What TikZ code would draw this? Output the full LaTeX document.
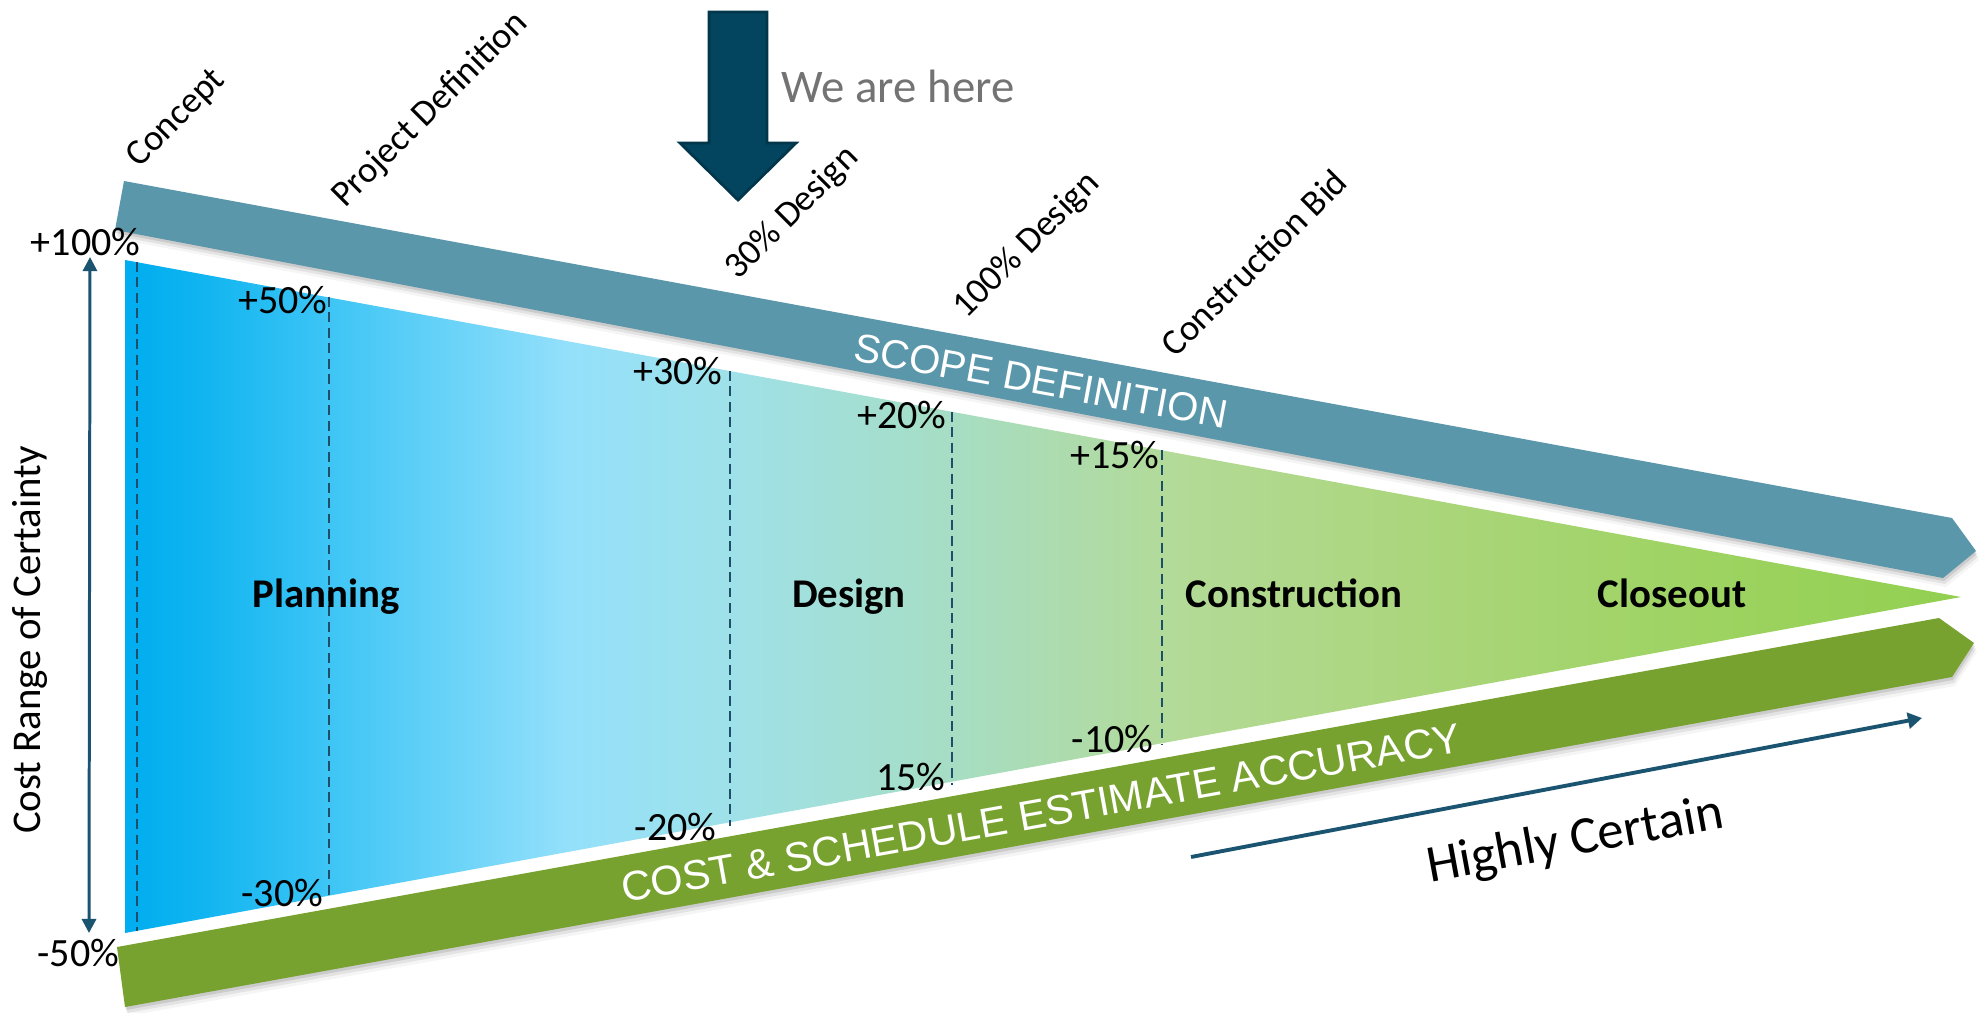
\documentclass[tikz,border=0pt]{standalone}
\usepackage{fontspec}
\setmainfont{Carlito}
\newfontfamily\arialf{Liberation Sans}
\usetikzlibrary{arrows.meta}
\definecolor{scopeblue}{HTML}{5B97AA}
\definecolor{accgreen}{HTML}{78A22F}
\definecolor{navyc}{HTML}{1B5470}
\definecolor{dashc}{HTML}{1F4E6B}
\definecolor{arrowfill}{HTML}{03455F}
\definecolor{arrowdraw}{HTML}{01364B}
\definecolor{hereg}{HTML}{737373}
\definecolor{ga}{HTML}{00ADEF}
\definecolor{gb}{HTML}{0FB4F0}
\definecolor{gc}{HTML}{3AC4F5}
\definecolor{gd}{HTML}{94E0FB}
\definecolor{ge}{HTML}{9FE1E8}
\definecolor{gf}{HTML}{A6DDC4}
\definecolor{gg}{HTML}{B3DA96}
\definecolor{gh}{HTML}{ABD67C}
\definecolor{gi}{HTML}{9ED362}
\definecolor{gj}{HTML}{92D050}
\pgfdeclarehorizontalshading{funnelshade}{100bp}{color(0bp)=(ga); color(25bp)=(ga); color(27bp)=(gb); color(30.3bp)=(gc); color(37.1bp)=(gd); color(41.6bp)=(ge); color(47.4bp)=(gf); color(53.8bp)=(gg); color(60.2bp)=(gh); color(67.9bp)=(gi); color(75bp)=(gj); color(100bp)=(gj)}
\begin{document}
\begin{tikzpicture}[x=0.01cm,y=-0.01cm,
  pct/.style={font=\fontsize{11.4}{13}\selectfont, inner sep=0pt, anchor=base east},
  phase/.style={font=\bfseries\fontsize{11.6}{13}\selectfont, inner sep=0pt, anchor=base},
  milestone/.style={font=\fontsize{10.4}{12}\selectfont, inner sep=0pt, anchor=base west, rotate=45},
  dashln/.style={dashc, line width=0.6pt, dash pattern=on 2.8pt off 1.6pt},
  bandtext/.style={font=\arialf\fontsize{11.4}{13}\selectfont, inner sep=0pt},
  bandshadow/.style={fill=black, opacity=#1}
]
\useasboundingbox (0,0) rectangle (1982,1012);
\fill[white] (0,0) rectangle (1982,1012);

% shadows of the bands
\foreach \d/\o in {9/0.04,6/0.07,3/0.1}{
  \fill[bandshadow=\o] ([shift={(\d/3,\d)}]124,181) -- ([shift={(\d/3,\d)}]1952,518) -- ([shift={(\d/3,\d)}]1976,551) -- ([shift={(\d/3,\d)}]1943,578) -- ([shift={(\d/3,\d)}]115,230) -- cycle;
  \fill[bandshadow=\o] ([shift={(\d/3,\d)}]117,947) -- ([shift={(\d/3,\d)}]1939,618) -- ([shift={(\d/3,\d)}]1974,643) -- ([shift={(\d/3,\d)}]1952,677) -- ([shift={(\d/3,\d)}]125,1007) -- cycle;
}
% scope band
\fill[scopeblue] (124,181) -- (1952,518) -- (1976,551) -- (1943,578) -- (115,230) -- cycle;
% accuracy band
\fill[accgreen] (117,947) -- (1939,618) -- (1974,643) -- (1952,677) -- (125,1007) -- cycle;
% funnel
\shade[shading=funnelshade] (125,260) -- (1961,597) -- (125,933) -- cycle;

% dashed milestone lines
\draw[dashln] (137,262) -- (137,931);
\draw[dashln] (329,297) -- (329,896);
\draw[dashln] (730,371) -- (730,826);
\draw[dashln] (952,412) -- (952,785);
\draw[dashln] (1162,450) -- (1162,745);

% percentage labels
\node[pct] (p100) at (141,255) {+100\%};
\node[pct] (p50)  at (328,313) {+50\%};
\node[pct] (p30)  at (723,384) {+30\%};
\node[pct] (p20)  at (947,428) {+20\%};
\node[pct] (p15)  at (1160,468) {+15\%};
\node[pct] (m50)  at (120,966) {-50\%};
\node[pct] (m30)  at (324,906) {-30\%};
\node[pct] (m20)  at (717,840) {-20\%};
\node[pct] (m15)  at (946,790) {15\%};
\node[pct] (m10)  at (1154,752) {-10\%};

% phase labels
\node[phase] (planning) at (326,607) {Planning};
\node[phase] (design) at (849,607) {Design};
\node[phase] (constr) at (1294,607) {Construction};
\node[phase] (closeout) at (1672,607) {Closeout};

% milestone labels
\node[milestone] (concept) at (139,169) {Concept};
\node[milestone] (projdef) at (345,209) {Project Definition};
\node[milestone] (d30) at (738,281) {30\% Design};
\node[milestone] (d100) at (966,320) {100\% Design};
\node[milestone] (cbid) at (1175,359) {Construction Bid};

% band texts
\node[bandtext, text=white, rotate=-10.4] (scope) at (1041,381) {SCOPE DEFINITION};
\node[bandtext, text=white, rotate=10.2, font=\arialf\fontsize{11.8}{13}\selectfont] (acc) at (1041,813) {COST \& SCHEDULE ESTIMATE ACCURACY};

% we are here arrow
\draw[fill=arrowfill, draw=arrowdraw, line width=0.8pt, line join=miter] (709,12) -- (767,12) -- (767,143) -- (796,143) -- (738,200) -- (680,143) -- (709,143) -- cycle;
\node[font=\fontsize{13.3}{15}\selectfont, text=hereg, inner sep=0pt, anchor=base west] (here) at (781,102) {We are here};

% cost range arrow
\coordinate (crtop) at (90,257);
\coordinate (crbot) at (89,933);
\draw[navyc, line width=0.85pt, {Triangle[width=4pt,length=4pt]}-{Triangle[width=4pt,length=4pt]}] (crbot) -- (crtop);
\node[font=\fontsize{11.6}{13}\selectfont, rotate=90, inner sep=0pt] (costrange) at (30,640) {Cost Range of Certainty};

% highly certain arrow
\coordinate (hcs) at (1191,857);
\coordinate (hce) at (1922,718);
\draw[navyc, line width=1.1pt, -{Triangle[width=4.5pt,length=4pt]}] (hcs) -- (hce);
\node[font=\fontsize{15}{17}\selectfont, rotate=10.4, inner sep=0pt, anchor=base] (highly) at (1578,855) {Highly Certain};
\end{tikzpicture}
\end{document}
